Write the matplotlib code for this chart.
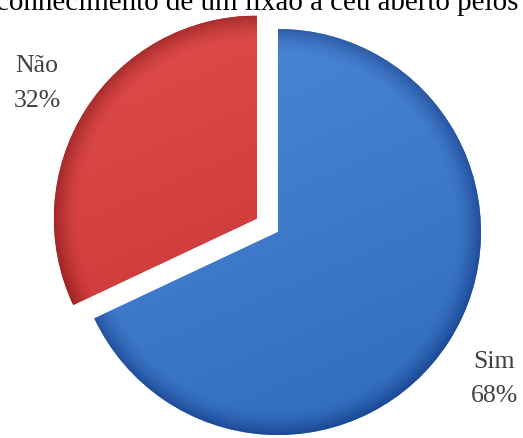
import numpy as np
import matplotlib
matplotlib.use("Agg")
import matplotlib.pyplot as plt

categories = ["Sim", "Não"]
values = [68, 32]
pct_labels = ["68%", "32%"]
title = "conhecimento de um lixão a céu aberto pelos"

W, H = 523, 438
fig = plt.figure(figsize=(W / 100, H / 100), dpi=100)
ax = fig.add_axes([0, 0, 1, 1])

cx, cy, R = 278, H - 232, 203
base_cols = [np.array([62, 121, 202]) / 255, np.array([209, 62, 62]) / 255]
rim_cols = [np.array([38, 84, 160]) / 255, np.array([160, 35, 35]) / 255]

wedges, _ = ax.pie(values, startangle=90, counterclock=False, center=(cx, cy),
                   radius=R, explode=[0, 25], colors=["#3E79CA", "#D13E3E"],
                   wedgeprops=dict(linewidth=0), frame=True)
ax.set_xlim(0, W)
ax.set_ylim(0, H)
ax.set_aspect("equal")
ax.axis("off")

# radial shading clipped to each wedge
n = 400
for w, bc, rc in zip(wedges, base_cols, rim_cols):
    wx, wy = w.center
    r = w.r
    yy, xx = np.mgrid[-1:1:n * 1j, -1:1:n * 1j]
    f = np.sqrt(xx ** 2 + yy ** 2)
    t = np.clip((f - 0.88) / 0.12, 0, 1) ** 1.5
    light = 0.06 * (-xx * 0.3 + yy * 0.7)
    img = bc[None, None, :] * (1 - t[..., None]) + rc[None, None, :] * t[..., None]
    img = np.clip(img + light[..., None], 0, 1)
    rgba = np.dstack([img, np.ones((n, n))])
    im = ax.imshow(rgba, extent=[wx - r, wx + r, wy - r, wy + r], origin="lower",
                   interpolation="bilinear", zorder=2)
    im.set_clip_path(w)

fs_lab = 18.5
lab_kw = dict(family="Liberation Serif", fontsize=fs_lab, color="#404040",
              ha="center", va="baseline")
ax.text(37, H - 72, categories[1], **lab_kw)
ax.text(37, H - 107, pct_labels[1], **lab_kw)
ax.text(494, H - 368, categories[0], **lab_kw)
ax.text(494, H - 402, pct_labels[0], **lab_kw)

# title, partly cut at the top of the image (as in the reference)
t = ax.text(-4, H - 10.5, title, family="Liberation Serif", fontsize=24, color="black",
            ha="left", va="baseline")
fig.canvas.draw()
bb = t.get_window_extent()
t.set_fontsize(24 * 524 / bb.width)

fig.savefig("out.png", dpi=100)
